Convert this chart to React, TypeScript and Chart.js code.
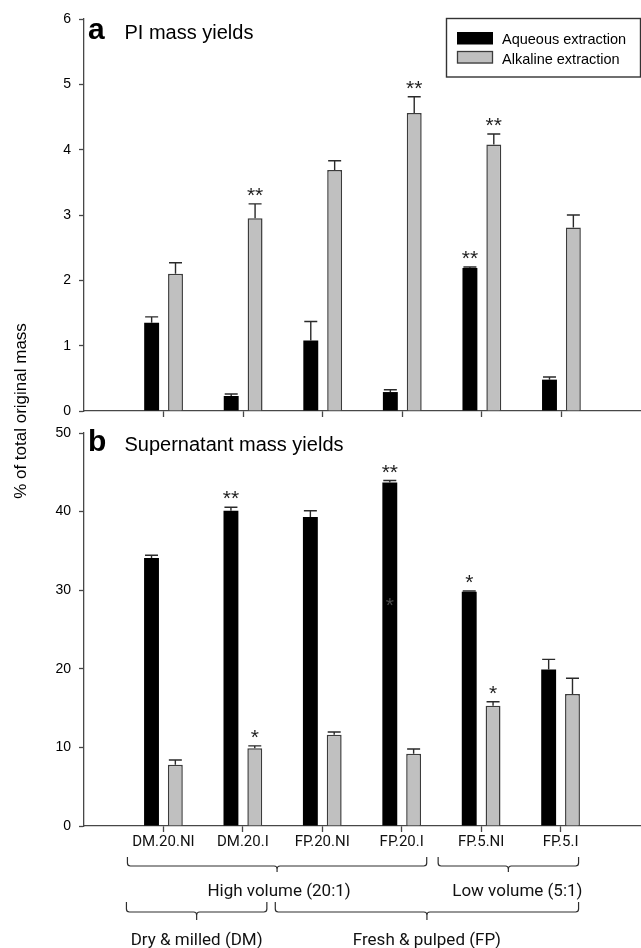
import React, { useEffect, useRef } from 'react';
import { Chart, registerables } from 'chart.js';
Chart.register(...registerables);

const categories = ['DM.20.NI', 'DM.20.I', 'FP.20.NI', 'FP.20.I', 'FP.5.NI', 'FP.5.I'];
const seriesNames = ['Aqueous extraction', 'Alkaline extraction'];

const piAqueous = [1.35, 0.23, 1.08, 0.29, 2.19, 0.48];
const piAqueousErr = [0.09, 0.03, 0.29, 0.035, 0.015, 0.04];
const piAlkaline = [2.1, 2.95, 3.69, 4.56, 4.08, 2.81];
const piAlkalineErr = [0.17, 0.22, 0.14, 0.25, 0.16, 0.19];
const piAqueousSig = ['', '', '', '', '**', ''];
const piAlkalineSig = ['', '**', '', '**', '**', ''];

const supAqueous = [34.1, 40.1, 39.3, 43.7, 29.8, 19.9];
const supAqueousErr = [0.35, 0.45, 0.8, 0.25, 0.1, 1.3];
const supAlkaline = [7.8, 9.9, 11.6, 9.2, 15.3, 16.8];
const supAlkalineErr = [0.6, 0.3, 0.35, 0.6, 0.5, 2.0];
const supAqueousSig = ['', '**', '', '**', '*', ''];
const supAlkalineSig = ['', '*', '', '', '*', ''];
const supAqueousStray = [null, null, null, 28.5, null, null];

const piTicks = { min: 0, max: 6, step: 1 };
const supTicks = { min: 0, max: 50, step: 10 };

const panelTitles = [
  { letter: 'a', text: 'PI mass yields' },
  { letter: 'b', text: 'Supernatant mass yields' },
];
const yTitle = '% of total original mass';

const groupBrackets = [
  { label: 'High volume (20:1)', from: 0, to: 3, row: 0 },
  { label: 'Low volume (5:1)', from: 4, to: 5, row: 0 },
  { label: 'Dry & milled (DM)', from: 0, to: 1, row: 1 },
  { label: 'Fresh & pulped (FP)', from: 2, to: 5, row: 1 },
];

// ---- styling (not data) ----
const W = 641;
const H = 948;
const SANS = '"Liberation Sans", Arial, sans-serif';
const CAT_FONT = 'Roboto, "Liberation Sans", sans-serif';
const AXIS_COLOR = '#474747';
const BLACK = '#000000';
const GRAY = '#c0c0c0';
const GRAY_BORDER = '#3c3c3c';
const bracketOffsets = [
  { l: 36, r: 25, dx: 2 },
  { l: 43, r: 18, dx: 9 },
  { l: 37, r: 24, dx: 0 },
  { l: 47, r: 18, dx: 0 },
];
const bracketRows = [
  { yTop: 857, yLine: 866, tip: 6, text: 895.5 },
  { yTop: 902, yLine: 912, tip: 8, text: 945 },
];

const pad = (arr: any[]) => [null, ...arr, null];
const hideEnds = (c: any) => (c.index === 0 || c.index === categories.length + 1 ? 'rgba(0,0,0,0)' : AXIS_COLOR);

function drawStarText(ctx: CanvasRenderingContext2D, text: string, x: number, cy: number, color: string) {
  ctx.save();
  ctx.font = `21px ${SANS}`;
  ctx.fillStyle = color;
  ctx.textAlign = 'center';
  ctx.textBaseline = 'alphabetic';
  const m = ctx.measureText(text);
  const asc = m.actualBoundingBoxAscent;
  const desc = m.actualBoundingBoxDescent;
  const baseline = cy - (desc - asc) / 2;
  ctx.fillText(text, x, baseline);
  ctx.restore();
}

const errorPlugin = {
  id: 'errorsAndSigs',
  afterDatasetsDraw(chart: any) {
    const ctx: CanvasRenderingContext2D = chart.ctx;
    const y = chart.scales.y;
    chart.data.datasets.forEach((ds: any, di: number) => {
      const meta = chart.getDatasetMeta(di);
      meta.data.forEach((el: any, i: number) => {
        const v = ds.data[i];
        if (v === null || v === undefined) return;
        const e = ds.errors[i - 1] || 0;
        const x = el.x;
        const yTop = y.getPixelForValue(v);
        const yCap = y.getPixelForValue(v + e);
        ctx.save();
        ctx.strokeStyle = '#2a2a2a';
        ctx.lineWidth = 1.4;
        ctx.beginPath();
        ctx.moveTo(x, yTop);
        ctx.lineTo(x, yCap);
        ctx.moveTo(x - 6.5, yCap);
        ctx.lineTo(x + 6.5, yCap);
        ctx.stroke();
        ctx.restore();
        const s = ds.sig[i - 1];
        if (s) drawStarText(ctx, s, x, yCap - 12, '#1e1e1e');
        if (ds.stray && ds.stray[i - 1] != null) {
          drawStarText(ctx, '*', x, y.getPixelForValue(ds.stray[i - 1]), '#4a4a4a');
        }
      });
    });
  },
};

function panelTitlePlugin(idx: number, baseline: number) {
  return {
    id: 'panelTitle' + idx,
    afterDraw(chart: any) {
      const ctx: CanvasRenderingContext2D = chart.ctx;
      ctx.save();
      ctx.fillStyle = '#000';
      ctx.textAlign = 'left';
      ctx.textBaseline = 'alphabetic';
      ctx.font = `bold 30px ${SANS}`;
      ctx.fillText(panelTitles[idx].letter, 88, baseline);
      ctx.font = `20px ${SANS}`;
      ctx.fillText(panelTitles[idx].text, 124.5, baseline);
      ctx.restore();
    },
  };
}

const legendPlugin = {
  id: 'customLegend',
  afterDraw(chart: any) {
    const ctx: CanvasRenderingContext2D = chart.ctx;
    ctx.save();
    ctx.strokeStyle = '#333';
    ctx.lineWidth = 1.4;
    ctx.strokeRect(446.5, 18.5, 194, 58.5);
    ctx.fillStyle = BLACK;
    ctx.fillRect(457, 32, 36, 12.5);
    ctx.fillStyle = GRAY;
    ctx.fillRect(457, 51, 36, 12.5);
    ctx.strokeStyle = GRAY_BORDER;
    ctx.lineWidth = 1.3;
    ctx.strokeRect(457.5, 51.5, 35, 11.5);
    ctx.fillStyle = '#000';
    ctx.font = `14.5px ${SANS}`;
    ctx.textAlign = 'left';
    ctx.textBaseline = 'alphabetic';
    ctx.fillText(seriesNames[0], 502, 44);
    ctx.fillText(seriesNames[1], 502, 63.5);
    ctx.restore();
  },
};

const bottomExtrasPlugin = {
  id: 'bottomExtras',
  afterDraw(chart: any) {
    const ctx: CanvasRenderingContext2D = chart.ctx;
    const x = chart.scales.x;
    ctx.save();
    ctx.strokeStyle = '#2e2e2e';
    ctx.lineWidth = 1.2;
    groupBrackets.forEach((g, gi) => {
      const off = bracketOffsets[gi];
      const row = bracketRows[g.row];
      const x1 = x.getPixelForValue(g.from + 1) - off.l;
      const x2 = x.getPixelForValue(g.to + 1) + off.r;
      const xc = (x1 + x2) / 2;
      const r = 3;
      const yl = row.yLine;
      ctx.beginPath();
      ctx.moveTo(x1, row.yTop);
      ctx.lineTo(x1, yl - r);
      ctx.quadraticCurveTo(x1, yl, x1 + r, yl);
      ctx.lineTo(xc - r, yl);
      ctx.quadraticCurveTo(xc, yl, xc, yl + r);
      ctx.lineTo(xc, yl + row.tip);
      ctx.moveTo(xc, yl + r);
      ctx.quadraticCurveTo(xc, yl, xc + r, yl);
      ctx.lineTo(x2 - r, yl);
      ctx.quadraticCurveTo(x2, yl, x2, yl - r);
      ctx.lineTo(x2, row.yTop);
      ctx.stroke();
      ctx.fillStyle = '#111';
      ctx.font = `17px ${CAT_FONT}`;
      ctx.textAlign = 'center';
      ctx.textBaseline = 'alphabetic';
      ctx.fillText(g.label, xc + off.dx, row.text);
    });
    // y axis title
    ctx.translate(21, 411);
    ctx.rotate(-Math.PI / 2);
    ctx.fillStyle = '#000';
    ctx.font = `17px ${SANS}`;
    ctx.textAlign = 'center';
    ctx.textBaseline = 'middle';
    ctx.fillText(yTitle, 0, 0);
    ctx.restore();
  },
};

function makeConfig(opts: {
  aq: number[]; aqErr: number[]; aqSig: string[]; aqStray?: any[];
  al: number[]; alErr: number[]; alSig: string[];
  ticks: { min: number; max: number; step: number };
  padding: any; xHeight: number; showLabels: boolean; plugins: any[];
}): any {
  return {
    type: 'bar',
    data: {
      labels: ['', ...categories, ''],
      datasets: [
        {
          label: seriesNames[0], data: pad(opts.aq), errors: opts.aqErr, sig: opts.aqSig, stray: opts.aqStray,
          backgroundColor: BLACK, borderWidth: 0, stack: 'aq',
          categoryPercentage: 0.6, barPercentage: 0.625,
        },
        {
          label: seriesNames[1], data: pad(opts.al), errors: opts.alErr, sig: opts.alSig,
          backgroundColor: GRAY, borderColor: GRAY_BORDER, borderWidth: 1.5, stack: 'al',
          categoryPercentage: 0.6, barPercentage: 0.625,
        },
      ],
    },
    options: {
      animation: false,
      responsive: false,
      maintainAspectRatio: false,
      events: [],
      layout: { padding: opts.padding },
      plugins: { legend: { display: false }, tooltip: { enabled: false }, title: { display: false } },
      scales: {
        x: {
          type: 'category',
          offset: false,
          grid: { offset: false, drawOnChartArea: false, drawTicks: true, tickLength: 6, tickColor: hideEnds, tickWidth: 1.3 },
          border: { color: AXIS_COLOR, width: 1.3 },
          ticks: {
            display: opts.showLabels, autoSkip: false, maxRotation: 0, minRotation: 0, padding: 1,
            color: '#111', font: { family: CAT_FONT, size: 15 },
          },
          afterFit: (s: any) => { s.height = opts.xHeight; },
        },
        y: {
          type: 'linear',
          min: opts.ticks.min,
          max: opts.ticks.max,
          stacked: false,
          grid: { drawOnChartArea: false, drawTicks: true, tickLength: 5, tickColor: AXIS_COLOR, tickWidth: 1.3 },
          border: { color: AXIS_COLOR, width: 1.3 },
          ticks: { stepSize: opts.ticks.step, padding: 8, color: '#000', font: { family: SANS, size: 14 } },
          afterFit: (s: any) => { s.width = 84; },
        },
      },
    },
    plugins: opts.plugins,
  };
}

export default function App() {
  const topRef = useRef<HTMLCanvasElement>(null);
  const botRef = useRef<HTMLCanvasElement>(null);

  useEffect(() => {
    const top = new Chart(topRef.current as HTMLCanvasElement, makeConfig({
      aq: piAqueous, aqErr: piAqueousErr, aqSig: piAqueousSig,
      al: piAlkaline, alErr: piAlkalineErr, alSig: piAlkalineSig,
      ticks: piTicks,
      padding: { top: 19, left: 0, right: -3, bottom: H - 411 - 10 },
      xHeight: 10, showLabels: false,
      plugins: [errorPlugin, panelTitlePlugin(0, 39), legendPlugin],
    }));
    const bot = new Chart(botRef.current as HTMLCanvasElement, makeConfig({
      aq: supAqueous, aqErr: supAqueousErr, aqSig: supAqueousSig, aqStray: supAqueousStray,
      al: supAlkaline, alErr: supAlkalineErr, alSig: supAlkalineSig,
      ticks: supTicks,
      padding: { top: 433, left: 0, right: -3, bottom: H - 826 - 30 },
      xHeight: 30, showLabels: true,
      plugins: [errorPlugin, panelTitlePlugin(1, 451), bottomExtrasPlugin],
    }));
    return () => { top.destroy(); bot.destroy(); };
  }, []);

  const cs: React.CSSProperties = { position: 'absolute', left: 0, top: 0, width: W, height: H };
  return (
    <div style={{ position: 'absolute', left: 0, top: 0, width: W, height: H, background: '#fff' }}>
      <canvas ref={botRef} width={W} height={H} style={cs} />
      <canvas ref={topRef} width={W} height={H} style={cs} />
    </div>
  );
}
